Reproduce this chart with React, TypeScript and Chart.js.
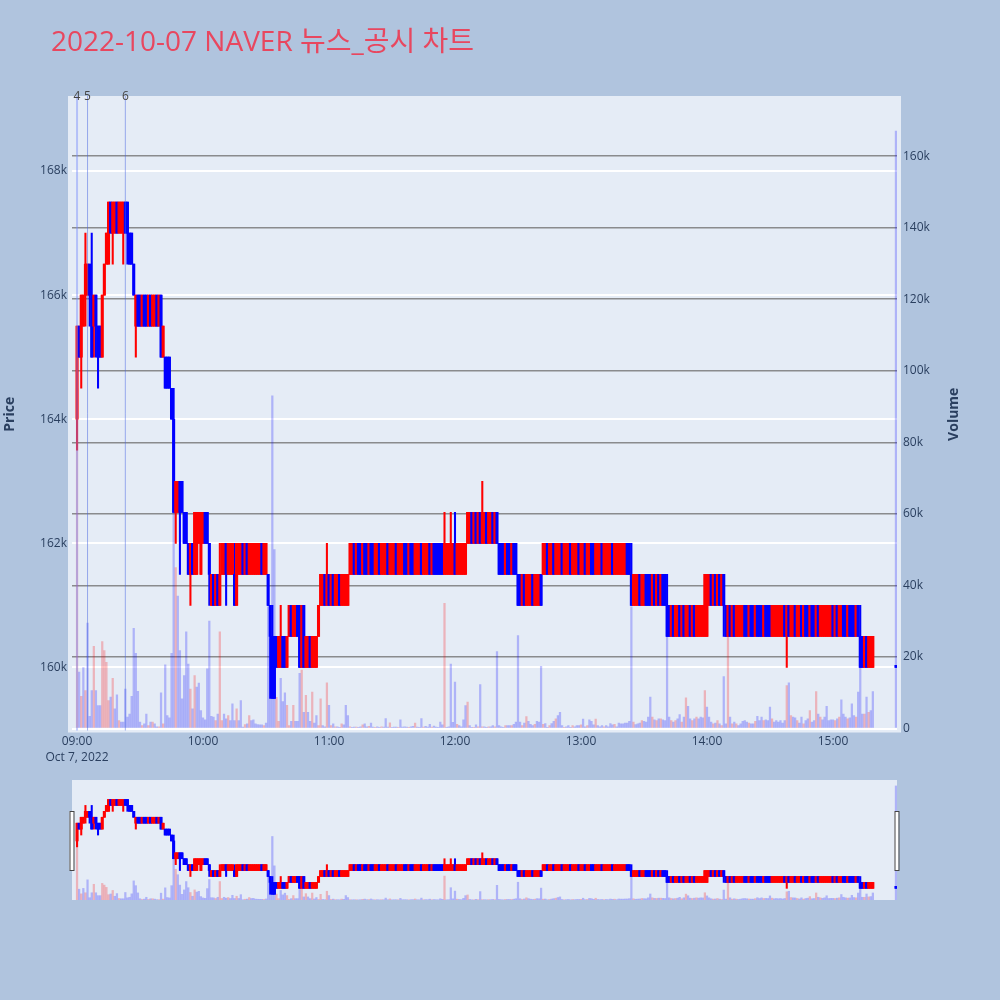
import React, { useEffect, useRef } from 'react';
import { Chart, registerables } from 'chart.js';

Chart.register(...registerables);

// ---- Data (prices in thousand KRW, volume in thousand shares), one entry per minute from 09:00 ----
const opens = [
  164,165.5,165,165.5,166,166,166.5,166,165.5,166,165.5,165.5,165,166,166.5,166.5,167.5,167,167,167.5,
  167,167,167,167.5,167.5,167,167,166.5,165.5,166,166,165.5,166,166,165.5,166,165.5,165.5,166,165.5,
  166,165,165,165,165,164.5,164,162.5,162.5,163,163,162.5,162.5,162,161.5,162,161.5,161.5,162,161.5,
  162,162.5,162.5,162,161,161.5,161,161.5,161,161.5,161.5,162,161.5,161.5,161.5,161.5,161,161.5,161.5,162,
  161.5,162,161.5,161.5,161.5,161.5,161.5,161.5,162,161.5,161.5,161.5,161,160.5,160.5,160.5,160,160,160.5,160.5,
  160,160.5,161,160.5,160.5,161,161,160,161,160,160,160.5,160,160,160,160.5,161,161,161.5,161,
  161.5,161,161.5,161,161,161.5,161,161,161,161,161.5,161.5,162,161.5,162,162,161.5,162,162,161.5,
  162,162,161.5,161.5,162,161.5,161.5,161.5,162,161.5,161.5,161.5,162,161.5,161.5,161.5,162,162,161.5,162,
  162,161.5,161.5,161.5,162,161.5,161.5,161.5,162,161.5,162,162,162,162,162,161.5,161.5,161.5,161.5,161.5,
  162,161.5,161.5,161.5,161.5,161.5,162,162,162.5,162,162.5,162,162.5,162,162,162.5,162,162,162.5,162,
  162.5,162,162,162,161.5,162,162,161.5,162,162,161.5,161.5,161,161.5,161,161,161,161.5,161,161,
  161,161.5,161.5,161.5,162,161.5,161.5,162,161.5,161.5,161.5,162,161.5,161.5,161.5,162,161.5,161.5,161.5,162,
  161.5,161.5,162,161.5,161.5,162,162,161.5,161.5,161.5,162,161.5,161.5,161.5,161.5,162,161.5,161.5,161.5,161.5,
  161.5,161.5,162,162,161.5,161,161,161,161.5,161,161,161.5,161.5,161.5,161,161.5,161,161.5,161,161.5,
  161.5,161,161,160.5,161,160.5,160.5,161,160.5,161,160.5,160.5,161,160.5,161,160.5,160.5,160.5,160.5,160.5,
  160.5,161,161.5,161,161.5,161,161.5,161,161.5,161,160.5,161,160.5,161,160.5,160.5,160.5,160.5,161,161,
  160.5,161,161,160.5,161,161,161,160.5,161,161,161,160.5,160.5,160.5,160.5,160.5,160.5,161,160.5,161,
  160.5,160.5,161,160.5,160.5,161,160.5,161,161,160.5,161,161,160.5,161,160.5,160.5,160.5,160.5,160.5,160.5,
  161,160.5,161,160.5,160.5,161,161,160.5,161,161,161,160.5,161,160.5,160.5,160,160.5,160,160,160,
];
const highs = [
  165.5,165.5,166,166,167,166.5,166.5,167,166,166,165.5,165.5,166,166.5,167,167.5,167.5,167.5,167.5,167.5,
  167.5,167.5,167.5,167.5,167.5,167,167,166.5,166,166,166,166,166,166,166,166,166,166,166,166,
  166,165.5,165,165,165,164.5,164.5,163,163,163,163,162.5,162.5,162,162,162,162.5,162.5,162.5,162.5,
  162.5,162.5,162.5,162,161.5,161.5,161.5,161.5,162,162,162,162,162,162,162,162,162,162,162,162,
  162,162,162,162,162,162,162,162,162,162,162,161.5,161,161,160.5,160.5,160.5,161,160.5,160.5,
  160.5,161,161,161,161,161,161,161,161,160.5,160.5,160.5,160.5,160.5,160.5,161,161.5,161.5,161.5,162,
  161.5,161.5,161.5,161.5,161.5,161.5,161.5,161.5,161.5,161.5,162,162,162,162,162,162,162,162,162,162,
  162,162,162,162,162,162,162,162,162,162,162,162,162,162,162,162,162,162,162,162,
  162,162,162,162,162,162,162,162,162,162,162,162,162,162,162,162.5,162,162,162.5,162,
  162.5,162,162,162,162,162,162.5,162.5,162.5,162.5,162.5,162.5,162.5,163,162.5,162.5,162.5,162.5,162.5,162.5,
  162.5,162,162,162,162,162,162,162,162,162,161.5,161.5,161.5,161.5,161.5,161.5,161.5,161.5,161.5,161.5,
  161.5,161.5,162,162,162,162,162,162,162,162,162,162,162,162,162,162,162,162,162,162,
  162,162,162,162,162,162,162,162,162,162,162,162,162,162,162,162,162,162,162,162,
  162,162,162,162,162,161.5,161.5,161.5,161.5,161.5,161.5,161.5,161.5,161.5,161.5,161.5,161.5,161.5,161.5,161.5,
  161.5,161.5,161,161,161,161,161,161,161,161,161,161,161,161,161,161,161,161,161,161.5,
  161.5,161.5,161.5,161.5,161.5,161.5,161.5,161.5,161.5,161,161,161,161,161,161,161,161,161,161,161,
  161,161,161,161,161,161,161,161,161,161,161,161,161,161,161,161,161,161,161,161,
  161,161,161,161,161,161,161,161,161,161,161,161,161,161,161,161,161,161,161,161,
  161,161,161,161,161,161,161,161,161,161,161,161,161,161,160.5,160.5,160.5,160.5,160.5,160.5,
];
const lows = [
  163.5,165,164.5,165.5,165.5,166,165.5,165,165,165,164.5,165,165,166,166.5,166.5,167,166.5,167,167,
  167,167,166.5,167,166.5,166.5,166.5,166,165,165.5,165.5,165.5,165.5,165.5,165.5,165.5,165.5,165.5,165.5,165.5,
  165,165,164.5,164.5,164.5,164,162.5,162,162.5,161.5,162.5,162,162,161.5,161,161.5,161.5,161.5,162,161.5,
  162,162,162,161,161,161,161,161,161,161.5,161.5,161,161.5,161.5,161.5,161,161,161.5,161.5,161.5,
  161.5,161.5,161.5,161.5,161.5,161.5,161.5,161.5,161.5,161.5,161.5,161,159.5,159.5,159.5,160,160,160,160,160,
  160,160.5,160.5,160.5,160.5,160.5,160,160,160,160,160,160,160,160,160,160.5,161,161,161,161,
  161,161,161,161,161,161,161,161,161,161,161.5,161.5,161.5,161.5,161.5,161.5,161.5,161.5,161.5,161.5,
  161.5,161.5,161.5,161.5,161.5,161.5,161.5,161.5,161.5,161.5,161.5,161.5,161.5,161.5,161.5,161.5,161.5,161.5,161.5,161.5,
  161.5,161.5,161.5,161.5,161.5,161.5,161.5,161.5,161.5,161.5,161.5,161.5,161.5,161.5,161.5,161.5,161.5,161.5,161.5,161.5,
  161.5,161.5,161.5,161.5,161.5,161.5,162,162,162,162,162,162,162,162,162,162,162,162,162,162,
  162,161.5,161.5,161.5,161.5,161.5,161.5,161.5,161.5,161.5,161,161,161,161,161,161,161,161,161,161,
  161,161,161.5,161.5,161.5,161.5,161.5,161.5,161.5,161.5,161.5,161.5,161.5,161.5,161.5,161.5,161.5,161.5,161.5,161.5,
  161.5,161.5,161.5,161.5,161.5,161.5,161.5,161.5,161.5,161.5,161.5,161.5,161.5,161.5,161.5,161.5,161.5,161.5,161.5,161.5,
  161.5,161.5,161.5,161.5,161,161,161,161,161,161,161,161,161,161,161,161,161,161,161,161,
  161,160.5,160.5,160.5,160.5,160.5,160.5,160.5,160.5,160.5,160.5,160.5,160.5,160.5,160.5,160.5,160.5,160.5,160.5,160.5,
  160.5,161,161,161,161,161,161,161,160.5,160.5,160.5,160.5,160.5,160.5,160.5,160.5,160.5,160.5,160.5,160.5,
  160.5,160.5,160.5,160.5,160.5,160.5,160.5,160.5,160.5,160.5,160.5,160.5,160.5,160.5,160.5,160.5,160.5,160.5,160,160.5,
  160.5,160.5,160.5,160.5,160.5,160.5,160.5,160.5,160.5,160.5,160.5,160.5,160.5,160.5,160.5,160.5,160.5,160.5,160.5,160.5,
  160.5,160.5,160.5,160.5,160.5,160.5,160.5,160.5,160.5,160.5,160.5,160.5,160.5,160,160,160,160,160,160,160,
];
const closes = [
  165.5,165,166,166,166.5,166.5,166,165,166,165.5,165,165,166,166.5,167,167.5,167,167.5,167.5,167,
  167.5,167.5,167.5,167,167,166.5,166.5,166,166,165.5,165.5,166,165.5,165.5,166,165.5,166,166,165.5,166,
  165,165.5,164.5,164.5,164.5,164,162.5,163,163,162.5,162.5,162,162,161.5,162,161.5,162.5,162.5,162.5,162.5,
  162.5,162,162,161.5,161.5,161,161.5,161,161.5,162,162,161.5,162,162,162,161,162,162,162,161.5,
  162,161.5,162,162,162,162,162,162,161.5,162,162,161,160.5,159.5,159.5,160,160.5,160.5,160,160,
  160.5,161,160.5,161,161,160.5,160,161,160,160.5,160.5,160,160.5,160.5,160.5,161,161.5,161.5,161,161.5,
  161,161.5,161,161.5,161.5,161,161.5,161.5,161.5,161.5,162,162,161.5,162,161.5,161.5,162,161.5,161.5,162,
  161.5,161.5,162,162,161.5,162,162,162,161.5,162,162,162,161.5,162,162,162,161.5,161.5,162,161.5,
  161.5,162,162,162,161.5,162,162,162,161.5,162,161.5,161.5,161.5,161.5,161.5,162,162,162,162,162,
  161.5,162,162,162,162,162,162.5,162.5,162,162.5,162,162.5,162,162.5,162.5,162,162.5,162.5,162,162.5,
  162,161.5,161.5,161.5,162,161.5,161.5,162,161.5,161.5,161,161,161.5,161,161.5,161.5,161.5,161,161.5,161.5,
  161.5,161,162,162,161.5,162,162,161.5,162,162,162,161.5,162,162,162,161.5,162,162,162,161.5,
  162,162,161.5,162,162,161.5,161.5,162,162,162,161.5,162,162,162,162,161.5,162,162,162,162,
  162,162,161.5,161.5,161,161.5,161.5,161.5,161,161.5,161.5,161,161,161,161.5,161,161.5,161,161.5,161,
  161,160.5,160.5,161,160.5,161,161,160.5,161,160.5,161,161,160.5,161,160.5,161,161,161,161,161.5,
  161.5,161.5,161,161.5,161,161.5,161,161.5,161,160.5,161,160.5,161,160.5,161,161,161,161,160.5,160.5,
  161,160.5,160.5,161,160.5,160.5,160.5,161,160.5,160.5,160.5,161,161,161,161,161,161,160.5,161,160.5,
  161,161,160.5,161,161,160.5,161,160.5,160.5,161,160.5,160.5,161,160.5,161,161,161,161,161,161,
  160.5,161,160.5,161,161,160.5,160.5,161,160.5,160.5,160.5,161,160.5,160,160,160.5,160,160.5,160.5,160.5,
];
const volumes = [
  95,15.8,9,17,10.6,29.5,3.4,10.6,23,10.6,6.4,6.4,24.3,21.8,18.5,7.8,8.8,14,5.5,9.4,
  2.2,1.8,1.8,11,3.2,4,9,28,21,10.4,1.8,0.8,1.3,4,0.8,1.8,1.8,1.3,0.5,0.5,
  10,1.3,17.8,3.6,3,21,62,45,37,21.8,8.3,14.8,27,18,11,5.5,14.8,11.6,12.7,5,
  3,2.4,16.7,30,3.4,3.2,2.2,4,27,2.2,4,2.7,3.6,2.2,6.9,2.2,5.5,2.2,7.8,0.4,
  1.1,1.3,3.6,2.2,2.4,1.3,1.1,1,1,0.8,1.5,34,25,93,50,8.7,2,14,7.5,10,
  6.5,0.8,2,6.5,2,2,15.4,16.3,4.5,9.3,4.5,2,10.2,1.5,3.6,0.8,8.3,0.8,0.5,12.8,
  6.5,0.8,1.3,0.5,0.5,0.3,1.3,1,6.5,3.6,0.5,0.3,0.4,0.4,0.2,0.5,1,1.3,0.5,0.6,
  1.5,0.4,0.3,0.5,0.2,0.5,0.4,2.8,0.4,1.6,0.3,0.4,0.4,0.3,2.4,0.4,0.5,0.4,0.2,0.5,
  0.6,1.5,0.4,0.3,2.8,0.4,0.6,0.4,1.2,0.4,0.7,0.4,0.3,1.8,1,35,0.3,0.5,18,1.7,
  13,1.2,0.8,0.5,2.4,6.4,7.4,0.8,0.3,0.3,1,0.5,12.3,0.5,0.5,0.3,0.5,0.5,0.8,0.5,
  21.5,0.8,0.5,0.3,0.8,0.8,0.8,0.8,1.2,1.8,26,1.8,0.8,1.5,3.3,2,1.2,0.8,1.2,2,
  1.8,17.4,1.2,1.4,0.3,0.8,1.4,2,2.7,3.6,4.5,0.8,0.3,0.5,0.8,0.3,0.8,0.5,0.8,0.8,
  1,2.6,0.5,0.8,2.4,2,1,2.6,0.8,0.5,0.8,0.5,0.8,0.5,1.4,1,1.2,0.5,1.5,1.3,
  1.3,1.5,1.5,2,34,1.8,1.1,1.3,1.5,2.2,2,1.8,3.2,8.8,3.2,2.4,2.2,2.7,2.7,2.4,
  2.2,25.7,3.2,2.2,1.8,2.2,2.7,3.9,1.8,3.2,8.6,6.2,2.7,2.2,2.7,3.2,2.7,3.2,3,10.6,
  6,3.2,1.8,1.3,1.5,2.2,1.3,0.8,14.5,1.3,25.7,3.2,1.3,1.8,1.3,0.8,1.3,2,2.2,1.8,
  1.5,1.3,1.3,2,3.4,2.2,3.2,2.2,2.4,2.2,6,2.7,1.8,2.2,1.8,2.2,1.5,2.2,12,12.8,
  3.6,3.2,3,2.2,1.5,3.2,1.3,2.2,2.7,5,1.8,2.2,10.3,4,3.2,2.4,3.2,6.2,2.2,2.4,
  2.4,2.2,2.7,3.2,8,4,3.2,2.7,3,6.9,3.6,3.2,10.2,17,4,4,8.8,4.5,5,10.3,
];
// 15:30 closing auction (minute 390 after 09:00)
const auctionMinute = 390;
const auctionPrice = 160;
const auctionVolume = 167;

const newsMinutes = [0, 5, 23];
const newsLabels = ['4', '5', '6'];

const xTickMinutes = [0, 60, 120, 180, 240, 300, 360];
const xTickLabels = ['09:00', '10:00', '11:00', '12:00', '13:00', '14:00', '15:00'];
const dateLabel = 'Oct 7, 2022';
const priceTicks = [160, 162, 164, 166, 168];
const volumeTicks = [0, 20, 40, 60, 80, 100, 120, 140, 160];

const titleText = '2022-10-07 NAVER 뉴스_공시 차트';

// ---- Styles ----
const PAPER = '#B0C4DE';
const PLOT_BG = '#E5ECF6';
const UP = '#FF0000';
const DOWN = '#0000FF';
const UP_VOL = 'rgba(255,0,0,0.24)';
const DOWN_VOL = 'rgba(0,0,255,0.24)';
const FONT = "'Open Sans', 'Noto Sans CJK KR', sans-serif";
const TEXT = '#2a3f5f';

const X_MIN = -2.4;
const X_MAX = 390.5;
const PRICE_MIN = 159.016;
const PRICE_MAX = 169.145;
const VOL_MAX = 175.7;

function buildDatasets() {
  const xs = opens.map((_, i) => i).concat([auctionMinute]);
  const o = [...opens, auctionPrice];
  const h = [...highs, auctionPrice];
  const l = [...lows, auctionPrice];
  const c = [...closes, auctionPrice];
  const v = [...volumes, auctionVolume];
  const candleUp = xs.map((_, i) => c[i] > o[i]);
  // volume colour: close compared with the previous close
  const volUp = xs.map((_, i) => (i === 0 ? c[i] > o[i] : c[i] > c[i - 1]));
  return [
    {
      type: 'bar',
      label: 'Volume',
      yAxisID: 'yVol',
      data: xs.map((x, i) => ({ x, y: v[i] })),
      backgroundColor: volUp.map((u) => (u ? UP_VOL : DOWN_VOL)),
      barThickness: 1.6,
      grouped: false,
      order: 3,
    },
    {
      type: 'bar',
      label: 'Wick',
      yAxisID: 'y',
      data: xs.map((x, i) => ({ x, y: [l[i], h[i]] })),
      backgroundColor: candleUp.map((u) => (u ? UP : DOWN)),
      barThickness: 1.4,
      grouped: false,
      order: 2,
    },
    {
      type: 'bar',
      label: 'Body',
      yAxisID: 'y',
      data: xs.map((x, i) => ({ x, y: [o[i], c[i]] })),
      backgroundColor: candleUp.map((u) => (u ? UP : DOWN)),
      barThickness: 2.4,
      minBarLength: 2,
      grouped: false,
      order: 1,
    },
  ];
}

const mainPlugin = {
  id: 'mainDecor',
  beforeDraw(chart: any) {
    const { ctx, chartArea: a } = chart;
    ctx.save();
    ctx.fillStyle = PAPER;
    ctx.fillRect(0, 0, chart.width, chart.height);
    ctx.fillStyle = PLOT_BG;
    ctx.fillRect(a.left - 4, a.top - 4, a.right - a.left + 8, a.bottom - a.top + 8);
    ctx.restore();
  },
  afterDatasetsDraw(chart: any) {
    const { ctx, chartArea: a } = chart;
    const xs = chart.scales.x;
    ctx.save();
    newsMinutes.forEach((m, i) => {
      const x = xs.getPixelForValue(m);
      ctx.beginPath();
      if (i === 0) {
        ctx.strokeStyle = 'rgba(120,140,250,0.45)';
        ctx.lineWidth = 2;
      } else {
        ctx.strokeStyle = 'rgba(70,100,225,0.5)';
        ctx.lineWidth = 1;
      }
      ctx.moveTo(x, a.top - 4);
      ctx.lineTo(x, a.bottom + 2);
      ctx.stroke();
    });
    ctx.restore();
  },
  afterDraw(chart: any) {
    const { ctx, chartArea: a } = chart;
    const xs = chart.scales.x;
    ctx.save();
    // title
    ctx.fillStyle = '#E8475F';
    ctx.font = `28px ${FONT}`;
    ctx.textAlign = 'left';
    ctx.textBaseline = 'alphabetic';
    ctx.fillText(titleText, 51, 51);
    // news labels
    ctx.fillStyle = '#444';
    ctx.font = `12px ${FONT}`;
    ctx.textAlign = 'center';
    ctx.textBaseline = 'middle';
    newsMinutes.forEach((m, i) => {
      ctx.fillText(newsLabels[i], xs.getPixelForValue(m), a.top - 3);
    });
    // axis titles
    ctx.fillStyle = TEXT;
    ctx.font = `bold 14px ${FONT}`;
    const midY = (a.top + a.bottom) / 2;
    ctx.translate(10, midY);
    ctx.rotate(-Math.PI / 2);
    ctx.fillText('Price', 0, 0);
    ctx.restore();
    ctx.save();
    ctx.fillStyle = TEXT;
    ctx.font = `bold 14px ${FONT}`;
    ctx.textAlign = 'center';
    ctx.textBaseline = 'middle';
    ctx.translate(954, midY);
    ctx.rotate(-Math.PI / 2);
    ctx.fillText('Volume', 0, 0);
    ctx.restore();
  },
};

const sliderPlugin = {
  id: 'sliderDecor',
  beforeDraw(chart: any) {
    const { ctx, chartArea: a } = chart;
    ctx.save();
    ctx.fillStyle = PLOT_BG;
    ctx.fillRect(a.left, a.top, a.right - a.left, a.bottom - a.top);
    ctx.restore();
  },
  afterDraw(chart: any) {
    const { ctx, chartArea: a } = chart;
    ctx.save();
    ctx.fillStyle = '#ffffff';
    ctx.strokeStyle = '#444';
    ctx.lineWidth = 1;
    const hy = a.top + 31;
    const hh = 59;
    [a.left - 2.5, a.right - 2.5].forEach((hx) => {
      ctx.fillRect(hx, hy, 4, hh);
      ctx.strokeRect(hx + 0.5, hy + 0.5, 4, hh);
    });
    ctx.restore();
  },
};

export default function App() {
  const mainRef = useRef<HTMLCanvasElement | null>(null);
  const sliderRef = useRef<HTMLCanvasElement | null>(null);

  useEffect(() => {
    Chart.defaults.font.family = FONT;
    const main = new Chart(mainRef.current as HTMLCanvasElement, {
      type: 'bar',
      data: { datasets: buildDatasets() as any },
      options: {
        animation: false,
        responsive: false,
        maintainAspectRatio: false,
        layout: { padding: { top: 100, left: 0, right: 0, bottom: 0 } },
        plugins: { legend: { display: false }, tooltip: { enabled: false } },
        scales: {
          x: {
            type: 'linear',
            position: 'bottom',
            min: X_MIN,
            max: X_MAX,
            offset: false,
            grid: { display: false, drawTicks: false },
            border: { display: false },
            afterFit: (s: any) => { s.height = 271.5; },
            afterBuildTicks: (s: any) => { s.ticks = xTickMinutes.map((v) => ({ value: v })); },
            ticks: {
              autoSkip: false,
              maxRotation: 0,
              padding: 5,
              color: TEXT,
              font: { size: 12, lineHeight: 1.35 },
              callback: (v: any) => {
                const i = xTickMinutes.indexOf(Number(v));
                return i === 0 ? [xTickLabels[0], dateLabel] : xTickLabels[i];
              },
            },
          },
          y: {
            type: 'linear',
            position: 'left',
            min: PRICE_MIN,
            max: PRICE_MAX,
            afterFit: (s: any) => { s.width = 72; },
            afterBuildTicks: (s: any) => { s.ticks = priceTicks.map((v) => ({ value: v })); },
            grid: { color: '#ffffff', lineWidth: 2, drawTicks: false },
            border: { display: false },
            ticks: { padding: 5, color: TEXT, font: { size: 12 }, callback: (v: any) => `${v}k` },
          },
          yVol: {
            type: 'linear',
            position: 'right',
            min: 0,
            max: VOL_MAX,
            afterFit: (s: any) => { s.width = 103; },
            afterBuildTicks: (s: any) => { s.ticks = volumeTicks.map((v) => ({ value: v })); },
            grid: {
              color: (ctx: any) => (ctx.tick && ctx.tick.value === 0 ? '#ffffff' : 'rgba(115,115,115,0.8)'),
              lineWidth: (ctx: any) => (ctx.tick && ctx.tick.value === 0 ? 2 : 1.5),
              drawTicks: false,
            },
            border: { display: false },
            ticks: {
              padding: 6,
              color: TEXT,
              font: { size: 12 },
              callback: (v: any) => (Number(v) === 0 ? '0' : `${v}k`),
            },
          },
        },
      } as any,
      plugins: [mainPlugin],
    });

    const slider = new Chart(sliderRef.current as HTMLCanvasElement, {
      type: 'bar',
      data: { datasets: buildDatasets() as any },
      options: {
        animation: false,
        responsive: false,
        maintainAspectRatio: false,
        layout: { padding: { top: 10, left: 72, right: 103, bottom: 10 } },
        plugins: { legend: { display: false }, tooltip: { enabled: false } },
        scales: {
          x: { type: 'linear', display: false, min: X_MIN, max: X_MAX, offset: false },
          y: { type: 'linear', display: false, min: PRICE_MIN, max: PRICE_MAX },
          yVol: { type: 'linear', display: false, min: 0, max: VOL_MAX },
        },
      } as any,
      plugins: [sliderPlugin],
    });

    return () => {
      main.destroy();
      slider.destroy();
    };
  }, []);

  return (
    <div style={{ position: 'absolute', left: 0, top: 0, width: 1000, height: 1000, background: PAPER }}>
      <canvas ref={mainRef} width={1000} height={1000} style={{ position: 'absolute', left: 0, top: 0 }} />
      <canvas ref={sliderRef} width={1000} height={140} style={{ position: 'absolute', left: 0, top: 770 }} />
    </div>
  );
}
